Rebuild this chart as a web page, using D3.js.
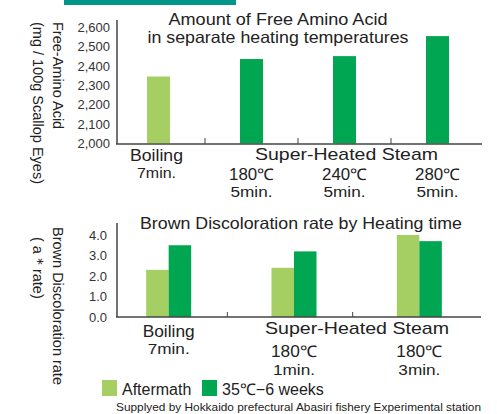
<!DOCTYPE html>
<html>
<head>
<meta charset="utf-8">
<script src="https://cdn.jsdelivr.net/npm/d3@7"></script>
<style>
  body { margin: 0; background: #fff; }
  svg { display: block; font-family: Arial, "Liberation Sans", sans-serif; }
</style>
</head>
<body>
<svg id="chart" width="497" height="414"></svg>
<script>
// top chart: free amino acid
const aminoCats = ["Boiling", "180℃", "240℃", "280℃"];
const aminoValues = [2345, 2435, 2450, 2553];
const aminoTicks = [2000, 2100, 2200, 2300, 2400, 2500, 2600];

// bottom chart: brown discoloration
const brownCats = ["Boiling", "180℃ 1min", "180℃ 3min"];
const brownSeries = ["Aftermath", "35℃−6 weeks"];
const brownAftermath = [2.3, 2.4, 4.0];
const brownStored = [3.5, 3.2, 3.7];
const brownTicks = [0, 1, 2, 3, 4];

const LIGHT = "#a5cf63", DARK = "#00a651", AXIS = "#444";
const svg = d3.select("#chart");

// teal strip at the top
svg.append("rect").attr("x", 64).attr("y", 0).attr("width", 172).attr("height", 5).attr("fill", "#00968a");

const fmt = d3.format(",");

// text helper, w = stretch to width like the original lettering
const txt = (g, s, x, y, size, w) => {
  const t = g.append("text").attr("x", x).attr("y", y).attr("font-size", size).attr("fill", "#222")
    .attr("text-anchor", "middle").text(s);
  if (w) t.attr("textLength", w).attr("lengthAdjust", "spacingAndGlyphs");
  return t;
};

/* ---------- top chart ---------- */
const topG = svg.append("g");
const x1 = d3.scaleBand().domain(aminoCats).range([112, 484]);
const y1 = d3.scaleLinear().domain([2000, 2600]).range([143.5, 27]);
const xc1 = c => x1(c) + x1.bandwidth() / 2;

topG.selectAll("rect.bar")
  .data(aminoCats.map((c, i) => ({ c, v: aminoValues[i] })))
  .join("rect")
  .attr("class", "bar")
  .attr("x", d => xc1(d.c) - 11.5)
  .attr("width", 23)
  .attr("y", d => y1(d.v))
  .attr("height", d => y1(2000) - y1(d.v))
  .attr("fill", (d, i) => i === 0 ? LIGHT : DARK);

const yAxis1 = topG.append("g").attr("transform", "translate(113,0)")
  .call(d3.axisLeft(y1).tickValues(aminoTicks).tickSize(0).tickPadding(3).tickFormat(fmt));
yAxis1.select(".domain").remove();
yAxis1.selectAll("text").attr("font-size", 13).attr("fill", "#333").attr("font-family", "Arial, sans-serif");

topG.append("line").attr("x1", 117).attr("x2", 117).attr("y1", 20).attr("y2", 144).attr("stroke", AXIS).attr("stroke-width", 1.5);
topG.append("line").attr("x1", 116).attr("x2", 482).attr("y1", 144).attr("y2", 144).attr("stroke", AXIS).attr("stroke-width", 1.5);
topG.selectAll("line.sep")
  .data(aminoCats.slice(1))
  .join("line")
  .attr("class", "sep")
  .attr("x1", d => x1(d)).attr("x2", d => x1(d))
  .attr("y1", 138).attr("y2", 144)
  .attr("stroke", AXIS);

txt(topG, "Amount of Free Amino Acid", 278, 25, 16.5, 219);
txt(topG, "in separate heating temperatures", 278, 43, 16.5, 261);

txt(topG, "Boiling", 156.5, 161, 16.5, 53);
txt(topG, "7min.", 156.5, 178, 15, 39);
txt(topG, "Super-Heated Steam", 346.5, 160, 17, 183);
["180℃", "240℃", "280℃"].forEach(c => {
  txt(topG, c, xc1(c), 180, 16, 45);
  txt(topG, "5min.", xc1(c), 197, 15.5, 42);
});

topG.append("text").attr("transform", "translate(53,22) rotate(90)").attr("font-size", 14.5).attr("fill", "#222").text("Free-Amino Acid");
topG.append("text").attr("transform", "translate(33,22) rotate(90)").attr("font-size", 14.5).attr("fill", "#222").text("(mg / 100g Scallop Eyes)");

/* ---------- bottom chart ---------- */
const bot = svg.append("g");
const x2 = d3.scaleBand().domain(brownCats).range([106, 482]);
const xs = d3.scaleBand().domain(brownSeries).range([0, 45]);
const y2 = d3.scaleLinear().domain([0, 4]).range([317, 235]);
const xc2 = c => x2(c) + x2.bandwidth() / 2;

const groups = bot.selectAll("g.grp")
  .data(brownCats.map((c, i) => ({ c, vals: [brownAftermath[i], brownStored[i]] })))
  .join("g")
  .attr("class", "grp")
  .attr("transform", d => `translate(${xc2(d.c) - 22.5},0)`);

groups.selectAll("rect")
  .data(d => d.vals.map((v, j) => ({ s: brownSeries[j], v })))
  .join("rect")
  .attr("x", d => xs(d.s))
  .attr("width", xs.bandwidth())
  .attr("y", d => y2(d.v))
  .attr("height", d => y2(0) - y2(d.v))
  .attr("fill", (d, j) => j === 0 ? LIGHT : DARK);

const yAxis2 = bot.append("g").attr("transform", "translate(110,0)")
  .call(d3.axisLeft(y2).tickValues(brownTicks).tickSize(0).tickPadding(3).tickFormat(d3.format(".1f")));
yAxis2.select(".domain").remove();
yAxis2.selectAll("text").attr("font-size", 13).attr("fill", "#333").attr("font-family", "Arial, sans-serif");

bot.append("line").attr("x1", 117).attr("x2", 117).attr("y1", 223).attr("y2", 317).attr("stroke", AXIS).attr("stroke-width", 1.5);
bot.append("line").attr("x1", 116).attr("x2", 481).attr("y1", 317).attr("y2", 317).attr("stroke", AXIS).attr("stroke-width", 1.5);
bot.selectAll("line.sep")
  .data(brownCats.slice(1))
  .join("line")
  .attr("class", "sep")
  .attr("x1", d => x2(d) - 4).attr("x2", d => x2(d) - 4)
  .attr("y1", 312).attr("y2", 317)
  .attr("stroke", AXIS);

txt(bot, "Brown Discoloration rate by Heating time", 301, 229, 16.5, 322);

txt(bot, "Boiling", xc2("Boiling"), 337, 16.5, 52);
txt(bot, "7min.", xc2("Boiling"), 354, 15.5, 42);
txt(bot, "Super-Heated Steam", 357, 334, 17, 184);
txt(bot, "180℃", xc2("180℃ 1min"), 357, 16, 46);
txt(bot, "1min.", xc2("180℃ 1min"), 375, 15.5, 42);
txt(bot, "180℃", xc2("180℃ 3min"), 357, 16, 46);
txt(bot, "3min.", xc2("180℃ 3min"), 375, 15.5, 42);

bot.append("text").attr("transform", "translate(53,227) rotate(90)").attr("font-size", 14.5).attr("fill", "#222").text("Brown Discoloration rate");
bot.append("text").attr("transform", "translate(33,237) rotate(90)").attr("font-size", 14.5).attr("fill", "#222").text("( a＊rate)");

// legend
const legend = svg.append("g").attr("transform", "translate(102,380)");
const legX = [0, 100];
brownSeries.forEach((s, i) => {
  legend.append("rect").attr("x", legX[i]).attr("y", 0).attr("width", 15).attr("height", 16)
    .attr("fill", i === 0 ? LIGHT : DARK);
  legend.append("text").attr("x", legX[i] + 20).attr("y", 15).attr("font-size", 16).attr("fill", "#222").text(s);
});

svg.append("text").attr("x", 116).attr("y", 411).attr("font-size", 11.5).attr("fill", "#222")
  .attr("textLength", 365).attr("lengthAdjust", "spacingAndGlyphs")
  .text("Supplyed by Hokkaido prefectural Abasiri fishery Experimental station");
</script>
</body>
</html>
